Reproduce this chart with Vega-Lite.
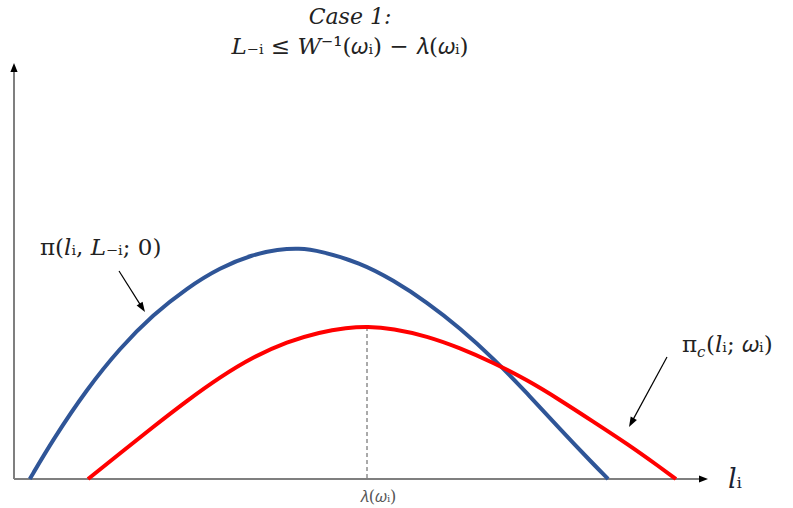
{
  "$schema": "https://vega.github.io/schema/vega-lite/v6.json",
  "width": 686,
  "height": 416,
  "autosize": {"type": "none"},
  "padding": {"left": 14, "top": 63, "right": 93, "bottom": 29},
  "background": "white",
  "config": {"view": {"stroke": null}},
  "datasets": {
    "curves": [
      {"series": "pi", "l": 0.23, "profit": 0},
      {"series": "pi", "l": 0.569, "profit": 0.57},
      {"series": "pi", "l": 1.064, "profit": 1.3},
      {"series": "pi", "l": 1.545, "profit": 1.89},
      {"series": "pi", "l": 2.026, "profit": 2.37},
      {"series": "pi", "l": 2.522, "profit": 2.755},
      {"series": "pi", "l": 3.003, "profit": 3.05},
      {"series": "pi", "l": 3.484, "profit": 3.24},
      {"series": "pi", "l": 3.85, "profit": 3.31},
      {"series": "pi", "l": 4.15, "profit": 3.33},
      {"series": "pi", "l": 4.461, "profit": 3.29},
      {"series": "pi", "l": 5.044, "profit": 3.12},
      {"series": "pi", "l": 5.525, "profit": 2.87},
      {"series": "pi", "l": 6.02, "profit": 2.55},
      {"series": "pi", "l": 6.501, "profit": 2.178},
      {"series": "pi", "l": 6.983, "profit": 1.745},
      {"series": "pi", "l": 7.478, "profit": 1.24},
      {"series": "pi", "l": 7.959, "profit": 0.72},
      {"series": "pi", "l": 8.44, "profit": 0.22},
      {"series": "pi", "l": 8.66, "profit": 0},
      {"series": "pic", "l": 1.079, "profit": 0},
      {"series": "pic", "l": 1.545, "profit": 0.37},
      {"series": "pic", "l": 2.026, "profit": 0.75},
      {"series": "pic", "l": 2.522, "profit": 1.13},
      {"series": "pic", "l": 3.003, "profit": 1.47},
      {"series": "pic", "l": 3.484, "profit": 1.76},
      {"series": "pic", "l": 3.98, "profit": 1.98},
      {"series": "pic", "l": 4.461, "profit": 2.12},
      {"series": "pic", "l": 4.85, "profit": 2.18},
      {"series": "pic", "l": 5.146, "profit": 2.2},
      {"series": "pic", "l": 5.525, "profit": 2.17},
      {"series": "pic", "l": 6.02, "profit": 2.06},
      {"series": "pic", "l": 6.501, "profit": 1.89},
      {"series": "pic", "l": 6.983, "profit": 1.68},
      {"series": "pic", "l": 7.478, "profit": 1.43},
      {"series": "pic", "l": 7.959, "profit": 1.14},
      {"series": "pic", "l": 8.44, "profit": 0.83},
      {"series": "pic", "l": 8.936, "profit": 0.51},
      {"series": "pic", "l": 9.417, "profit": 0.17},
      {"series": "pic", "l": 9.65, "profit": 0}
    ]
  },
  "encoding": {
    "x": {"type": "quantitative", "scale": {"domain": [0, 10], "nice": false, "zero": false}, "axis": null},
    "y": {"type": "quantitative", "scale": {"domain": [0, 6], "nice": false, "zero": false}, "axis": null}
  },
  "layer": [
    {
      "data": {"values": [{"l": 5.146, "profit": 2.192}]},
      "mark": {"type": "rule", "color": "#555555", "strokeWidth": 1, "strokeDash": [4, 3]},
      "encoding": {
        "x": {"field": "l", "type": "quantitative"},
        "y": {"field": "profit", "type": "quantitative"},
        "y2": {"datum": 0}
      }
    },
    {
      "data": {"values": [
        {"x1": 0, "y1": 0, "x2": 0, "y2": 5.93},
        {"x1": 0, "y1": 0, "x2": 10.05, "y2": 0}
      ]},
      "mark": {"type": "rule", "color": "#7f7f7f", "strokeWidth": 2},
      "encoding": {
        "x": {"field": "x1", "type": "quantitative"},
        "y": {"field": "y1", "type": "quantitative"},
        "x2": {"field": "x2"},
        "y2": {"field": "y2"}
      }
    },
    {
      "data": {"values": [
        {"x": 0, "y": 5.935, "dir": -90},
        {"x": 10.051, "y": 0, "dir": 0}
      ]},
      "mark": {"type": "point", "shape": "M1,0L-1,0.8L-1,-0.8Z", "filled": true, "color": "black", "opacity": 1, "size": 81},
      "encoding": {
        "x": {"field": "x", "type": "quantitative"},
        "y": {"field": "y", "type": "quantitative"},
        "angle": {"field": "dir", "type": "quantitative", "scale": null}
      }
    },
    {
      "data": {"name": "curves"},
      "mark": {"type": "line", "strokeWidth": 4, "interpolate": "basis"},
      "encoding": {
        "x": {"field": "l", "type": "quantitative"},
        "y": {"field": "profit", "type": "quantitative"},
        "color": {"field": "series", "type": "nominal", "scale": {"domain": ["pi", "pic"], "range": ["#2F5597", "#FF0000"]}, "legend": null}
      }
    },
    {
      "data": {"values": [
        {"x1": 1.531, "y1": 3.0, "x2": 1.87, "y2": 2.469},
        {"x1": 9.519, "y1": 1.76, "x2": 9.0, "y2": 0.813}
      ]},
      "mark": {"type": "rule", "color": "black", "strokeWidth": 1.2},
      "encoding": {
        "x": {"field": "x1", "type": "quantitative"},
        "y": {"field": "y1", "type": "quantitative"},
        "x2": {"field": "x2"},
        "y2": {"field": "y2"}
      }
    },
    {
      "data": {"values": [
        {"x": 1.87, "y": 2.469, "dir": 57.6},
        {"x": 9.0, "y": 0.813, "dir": 118.5}
      ]},
      "mark": {"type": "point", "shape": "M1,0L-1,0.7L-1,-0.7Z", "filled": true, "color": "black", "opacity": 1, "size": 100},
      "encoding": {
        "x": {"field": "x", "type": "quantitative"},
        "y": {"field": "y", "type": "quantitative"},
        "angle": {"field": "dir", "type": "quantitative", "scale": null}
      }
    },
    {
      "data": {"values": [{"x": 4.898, "y": 6.563, "label": "Case 1:"}]},
      "mark": {"type": "text", "font": "DejaVu Serif", "fontStyle": "italic", "fontSize": 22, "align": "center", "baseline": "alphabetic", "color": "#222222"},
      "encoding": {
        "x": {"field": "x", "type": "quantitative"},
        "y": {"field": "y", "type": "quantitative"},
        "text": {"field": "label"}
      }
    },
    {
      "data": {"values": [{"x": 4.898, "y": 6.13, "label": "𝐿₋ᵢ ≤ 𝑊⁻¹(𝜔ᵢ) − 𝜆(𝜔ᵢ)"}]},
      "mark": {"type": "text", "font": "DejaVu Serif", "fontSize": 23, "align": "center", "baseline": "alphabetic", "color": "#222222"},
      "encoding": {
        "x": {"field": "x", "type": "quantitative"},
        "y": {"field": "y", "type": "quantitative"},
        "text": {"field": "label"}
      }
    },
    {
      "data": {"values": [{"x": 0.379, "y": 3.231, "label": "π(𝑙ᵢ, 𝐿₋ᵢ; 0)"}]},
      "mark": {"type": "text", "font": "DejaVu Serif", "fontSize": 23, "align": "left", "baseline": "alphabetic", "color": "#222222"},
      "encoding": {
        "x": {"field": "x", "type": "quantitative"},
        "y": {"field": "y", "type": "quantitative"},
        "text": {"field": "label"}
      }
    },
    {
      "data": {"values": [{"x": 9.738, "y": 1.832, "label": "π"}]},
      "mark": {"type": "text", "font": "DejaVu Serif", "fontSize": 23, "align": "left", "baseline": "alphabetic", "color": "#222222"},
      "encoding": {
        "x": {"field": "x", "type": "quantitative"},
        "y": {"field": "y", "type": "quantitative"},
        "text": {"field": "label"}
      }
    },
    {
      "data": {"values": [{"x": 9.738, "y": 1.832, "label": "𝑐"}]},
      "mark": {"type": "text", "font": "DejaVu Serif", "fontSize": 15, "align": "left", "baseline": "alphabetic", "dx": 15, "dy": 5, "color": "#222222"},
      "encoding": {
        "x": {"field": "x", "type": "quantitative"},
        "y": {"field": "y", "type": "quantitative"},
        "text": {"field": "label"}
      }
    },
    {
      "data": {"values": [{"x": 9.738, "y": 1.832, "label": "(𝑙ᵢ; 𝜔ᵢ)"}]},
      "mark": {"type": "text", "font": "DejaVu Serif", "fontSize": 23, "align": "left", "baseline": "alphabetic", "dx": 24, "color": "#222222"},
      "encoding": {
        "x": {"field": "x", "type": "quantitative"},
        "y": {"field": "y", "type": "quantitative"},
        "text": {"field": "label"}
      }
    },
    {
      "data": {"values": [{"x": 10.408, "y": -0.13, "label": "𝑙ᵢ"}]},
      "mark": {"type": "text", "font": "DejaVu Serif", "fontSize": 27, "align": "left", "baseline": "alphabetic", "color": "#1a2233"},
      "encoding": {
        "x": {"field": "x", "type": "quantitative"},
        "y": {"field": "y", "type": "quantitative"},
        "text": {"field": "label"}
      }
    },
    {
      "data": {"values": [{"x": 5.306, "y": -0.332, "label": "𝜆(𝜔ᵢ)"}]},
      "mark": {"type": "text", "font": "DejaVu Serif", "fontSize": 16, "align": "center", "baseline": "alphabetic", "color": "#555555"},
      "encoding": {
        "x": {"field": "x", "type": "quantitative"},
        "y": {"field": "y", "type": "quantitative"},
        "text": {"field": "label"}
      }
    }
  ]
}
